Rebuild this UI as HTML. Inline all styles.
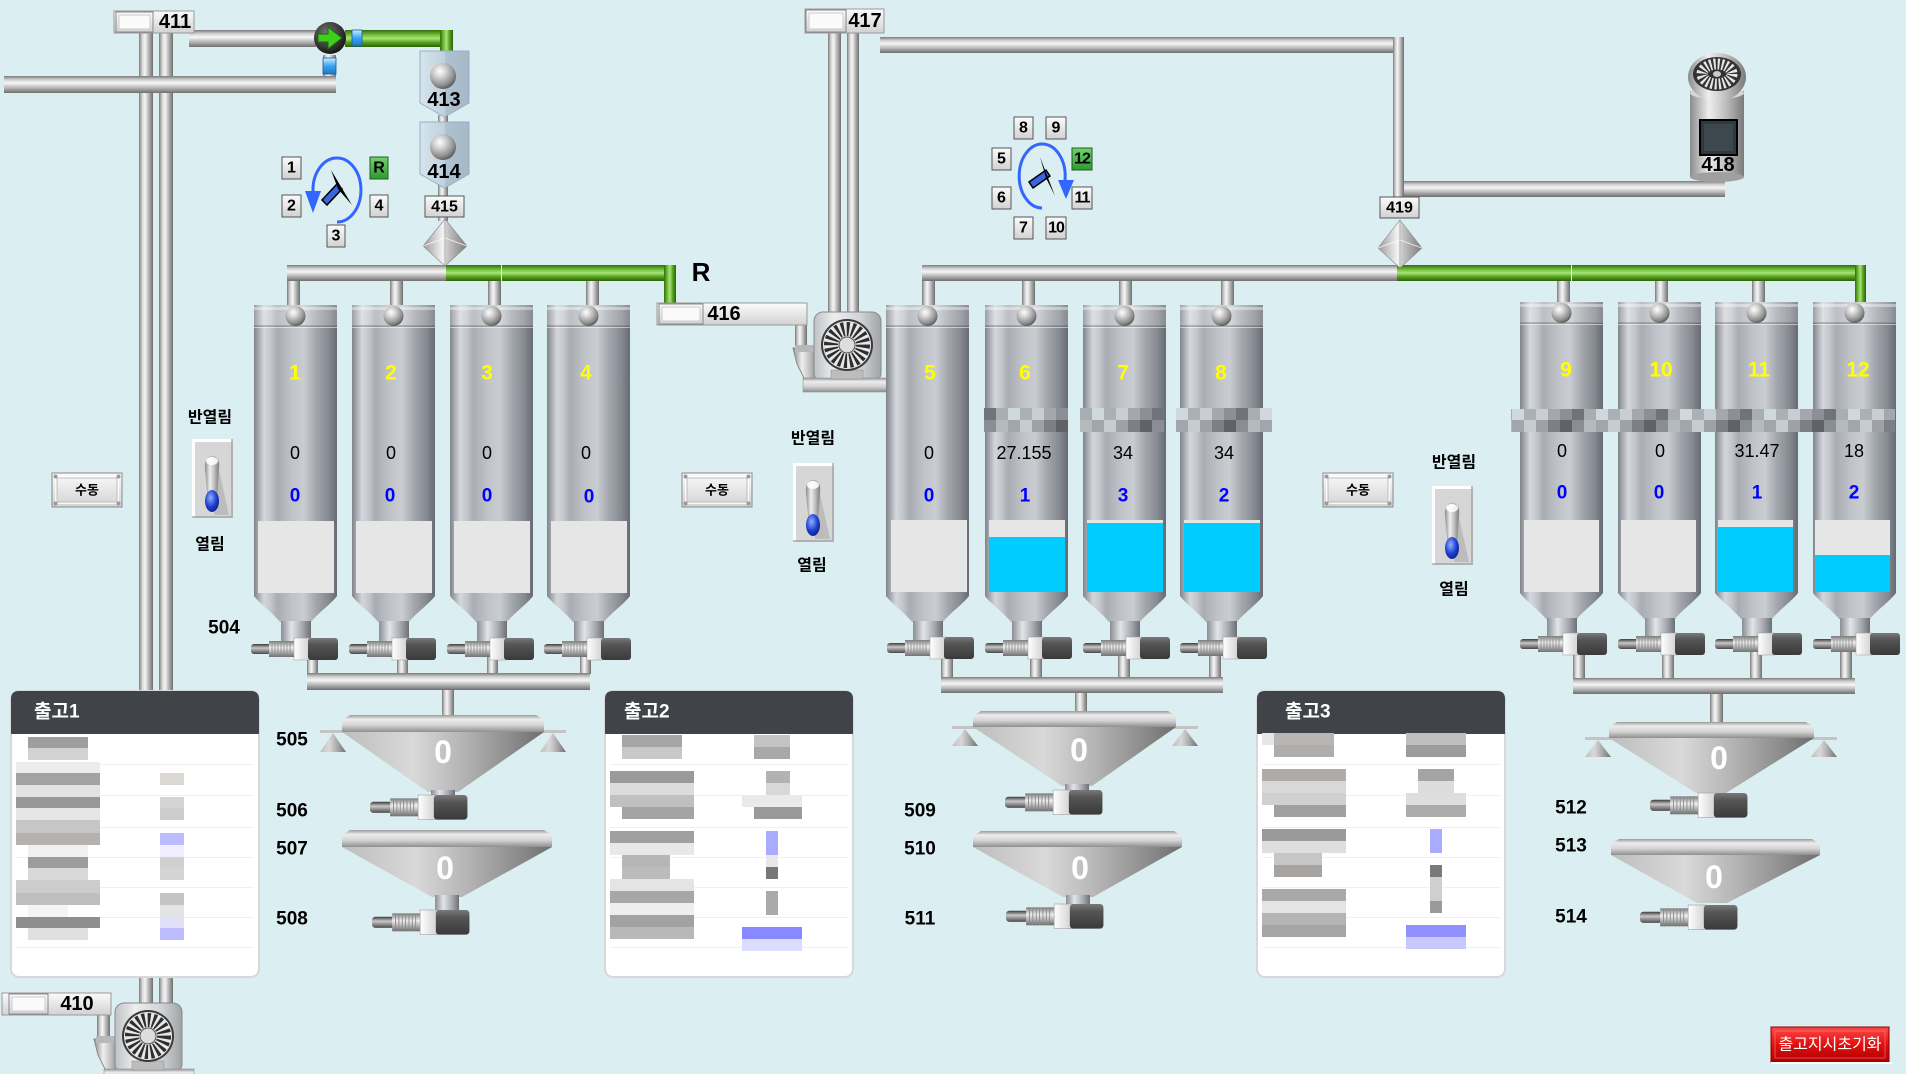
<!DOCTYPE html>
<html><head><meta charset="utf-8">
<style>
html,body{margin:0;padding:0;background:#dbeef2;width:1906px;height:1074px;overflow:hidden}
svg{display:block}
text{font-family:"Liberation Sans","Noto Sans CJK KR",sans-serif;text-anchor:middle;dominant-baseline:central}
.n{font-size:16px;font-weight:bold;fill:#000}
.lb{font-size:19px;font-weight:bold;fill:#000}
.y{font-size:21px;font-weight:bold;fill:#ffff00}
.v{font-size:18px;fill:#000}
.b{font-size:19px;font-weight:bold;fill:#0000ff}
.z{font-size:32px;font-weight:bold;fill:#fff}
.k{font-size:16px;font-weight:bold;fill:#000}
.t{font-size:19px;font-weight:bold;fill:#fff;text-anchor:start}
.nb{fill:url(#bx);stroke:#555;stroke-width:1}
.ng{fill:url(#gb);stroke:#1f5f1f;stroke-width:1}
</style></head><body>
<svg width="1906" height="1074" viewBox="0 0 1906 1074" xmlns="http://www.w3.org/2000/svg">
<defs>
<linearGradient id="ph" x1="0" y1="0" x2="0" y2="1"><stop offset="0" stop-color="#7a7a7a"/><stop offset=".22" stop-color="#d2d2d2"/><stop offset=".42" stop-color="#f6f6f6"/><stop offset=".68" stop-color="#bababa"/><stop offset="1" stop-color="#6e6e6e"/></linearGradient>
<linearGradient id="pv" x1="0" y1="0" x2="1" y2="0"><stop offset="0" stop-color="#7a7a7a"/><stop offset=".22" stop-color="#d2d2d2"/><stop offset=".42" stop-color="#f6f6f6"/><stop offset=".68" stop-color="#bababa"/><stop offset="1" stop-color="#6e6e6e"/></linearGradient>
<linearGradient id="gh" x1="0" y1="0" x2="0" y2="1"><stop offset="0" stop-color="#2e6e0c"/><stop offset=".3" stop-color="#78c23c"/><stop offset=".5" stop-color="#a8e37a"/><stop offset=".72" stop-color="#58a422"/><stop offset="1" stop-color="#2a620a"/></linearGradient>
<linearGradient id="gv" x1="0" y1="0" x2="1" y2="0"><stop offset="0" stop-color="#2e6e0c"/><stop offset=".3" stop-color="#78c23c"/><stop offset=".5" stop-color="#a8e37a"/><stop offset=".72" stop-color="#58a422"/><stop offset="1" stop-color="#2a620a"/></linearGradient>
<linearGradient id="sb" x1="0" y1="0" x2="1" y2="0"><stop offset="0" stop-color="#7f838a"/><stop offset=".05" stop-color="#a3a7ad"/><stop offset=".12" stop-color="#d3d7dc"/><stop offset=".2" stop-color="#c4c8cd"/><stop offset=".28" stop-color="#a9adb3"/><stop offset=".45" stop-color="#bfc3c8"/><stop offset=".6" stop-color="#c9cdd2"/><stop offset=".75" stop-color="#a3a7ad"/><stop offset=".9" stop-color="#858990"/><stop offset="1" stop-color="#666a72"/></linearGradient>
<linearGradient id="sn" x1="0" y1="0" x2="1" y2="0"><stop offset="0" stop-color="#8a8e94"/><stop offset=".35" stop-color="#e2e5e8"/><stop offset=".7" stop-color="#a8acb2"/><stop offset="1" stop-color="#6c7076"/></linearGradient>
<radialGradient id="ball" cx=".38" cy=".32" r=".7"><stop offset="0" stop-color="#ffffff"/><stop offset=".35" stop-color="#d0d0d0"/><stop offset=".8" stop-color="#8a8a8a"/><stop offset="1" stop-color="#5a5a5a"/></radialGradient>
<linearGradient id="vr" x1="0" y1="0" x2="0" y2="1"><stop offset="0" stop-color="#3a3a3a"/><stop offset=".4" stop-color="#c8c8c8"/><stop offset="1" stop-color="#4a4a4a"/></linearGradient>
<linearGradient id="vk" x1="0" y1="0" x2="0" y2="1"><stop offset="0" stop-color="#7a7a7a"/><stop offset=".4" stop-color="#f0f0f0"/><stop offset=".7" stop-color="#b0b0b0"/><stop offset="1" stop-color="#6a6a6a"/></linearGradient>
<linearGradient id="vw" x1="0" y1="0" x2="1" y2="0"><stop offset="0" stop-color="#ffffff"/><stop offset="1" stop-color="#d0d0d0"/></linearGradient>
<linearGradient id="vd" x1="0" y1="0" x2="0" y2="1"><stop offset="0" stop-color="#7a7a7a"/><stop offset=".3" stop-color="#555"/><stop offset="1" stop-color="#3a3a3a"/></linearGradient>
<linearGradient id="hr" x1="0" y1="0" x2="0" y2="1"><stop offset="0" stop-color="#9a9a9a"/><stop offset=".25" stop-color="#ececec"/><stop offset=".6" stop-color="#d4d4d4"/><stop offset="1" stop-color="#8e8e8e"/></linearGradient>
<linearGradient id="hc" x1="0" y1="0" x2="1" y2="0"><stop offset="0" stop-color="#bdbdbd"/><stop offset=".35" stop-color="#d9d9d9"/><stop offset=".6" stop-color="#b4b4b4"/><stop offset=".85" stop-color="#8a8a8a"/><stop offset="1" stop-color="#6e6e6e"/></linearGradient>
<linearGradient id="mt" x1="0" y1="0" x2="1" y2="0"><stop offset="0" stop-color="#8c8c8c"/><stop offset=".35" stop-color="#eeeeee"/><stop offset=".65" stop-color="#c0c0c0"/><stop offset="1" stop-color="#7a7a7a"/></linearGradient>
<linearGradient id="fh" x1="0" y1="0" x2="1" y2="0"><stop offset="0" stop-color="#bfc2c5"/><stop offset=".3" stop-color="#eceeef"/><stop offset=".7" stop-color="#d0d2d4"/><stop offset="1" stop-color="#a0a3a6"/></linearGradient>
<linearGradient id="bx" x1="0" y1="0" x2="0" y2="1"><stop offset="0" stop-color="#fbfbfb"/><stop offset="1" stop-color="#d2d2d2"/></linearGradient>
<linearGradient id="gb" x1="0" y1="0" x2="0" y2="1"><stop offset="0" stop-color="#6fd36f"/><stop offset="1" stop-color="#2f9a2f"/></linearGradient>
<radialGradient id="blue" cx=".4" cy=".35" r=".7"><stop offset="0" stop-color="#8fb0ff"/><stop offset=".6" stop-color="#1d3fd0"/><stop offset="1" stop-color="#0a1f80"/></radialGradient>
<linearGradient id="bsq" x1="0" y1="0" x2="0" y2="1"><stop offset="0" stop-color="#cdeeff"/><stop offset=".5" stop-color="#39a3f0"/><stop offset="1" stop-color="#1e78c8"/></linearGradient>
<linearGradient id="red" x1="0" y1="0" x2="0" y2="1"><stop offset="0" stop-color="#ff4a4a"/><stop offset=".5" stop-color="#e01010"/><stop offset="1" stop-color="#b00000"/></linearGradient>
<linearGradient id="sh" x1="0" y1="0" x2="1" y2="0"><stop offset="0" stop-color="#d6e4ee"/><stop offset=".5" stop-color="#c0d2de"/><stop offset=".52" stop-color="#aec2d0"/><stop offset="1" stop-color="#a4b8c7"/></linearGradient>
<radialGradient id="dk" cx=".4" cy=".35" r=".7"><stop offset="0" stop-color="#777"/><stop offset="1" stop-color="#111"/></radialGradient>
<linearGradient id="dia" x1="0" y1="0" x2="1" y2="0"><stop offset="0" stop-color="#9a9a9a"/><stop offset=".45" stop-color="#f4f4f4"/><stop offset=".55" stop-color="#c8c8c8"/><stop offset="1" stop-color="#7a7a7a"/></linearGradient>
<pattern id="mos" patternUnits="userSpaceOnUse" x="0" y="408" width="84" height="24">
<rect x="0" y="0" width="12" height="12" fill="#cfd8dc"/><rect x="12" y="0" width="12" height="12" fill="#aab0b6"/><rect x="24" y="0" width="12" height="12" fill="#c8ced2"/><rect x="36" y="0" width="12" height="12" fill="#a4a8ae"/><rect x="48" y="0" width="12" height="12" fill="#8c9096"/><rect x="60" y="0" width="12" height="12" fill="#6f747a"/><rect x="72" y="0" width="12" height="12" fill="#a9aeb3"/>
<rect x="0" y="12" width="12" height="12" fill="#a0a6ac"/><rect x="12" y="12" width="12" height="12" fill="#c6ccd0"/><rect x="24" y="12" width="12" height="12" fill="#9ea2a6"/><rect x="36" y="12" width="12" height="12" fill="#7c8086"/><rect x="48" y="12" width="12" height="12" fill="#5f6368"/><rect x="60" y="12" width="12" height="12" fill="#8a8e94"/><rect x="72" y="12" width="12" height="12" fill="#b4babe"/>
</pattern>
<g id="silo">
<rect x="0" y="0" width="83" height="290" fill="url(#sb)"/>
<rect x="0" y="0" width="83" height="21" fill="#fff" opacity=".22"/>
<rect x="0" y="2" width="83" height="3" fill="#fff" opacity=".4"/>
<rect x="0" y="20" width="83" height="2" fill="#666" opacity=".35"/>
<rect x="0" y="22" width="83" height="1" fill="#fff" opacity=".5"/>
<path d="M0,288 H83 V291 C78,298 62,310 57,317 H26 C21,310 5,298 0,291 Z" fill="url(#sb)"/>
<rect x="27" y="316" width="30" height="20" fill="url(#sn)"/>
<circle cx="41.5" cy="11" r="10" fill="url(#ball)"/>
</g>
<g id="vlv">
<rect x="0" y="6" width="20" height="10" rx="3" fill="url(#vr)"/>
<rect x="18" y="3" width="25" height="16" fill="url(#vk)"/>
<path d="M21,3v16M24,3v16M27,3v16M30,3v16M33,3v16M36,3v16M39,3v16" stroke="#8a8a8a" stroke-width=".8"/>
<rect x="43" y="0" width="16" height="22" fill="url(#vw)" stroke="#999" stroke-width=".5"/>
<rect x="57" y="0" width="30" height="22" rx="3" fill="url(#vd)"/>
</g>
<g id="tog">
<rect x="0" y="0" width="41" height="79" fill="#d6d6d6"/>
<path d="M0,0 H41 V3 H3 V79 H0 Z" fill="#fff"/>
<path d="M41,0 V79 H0 V77 H39 V0 Z" fill="#a0a0a0" opacity=".7"/>
<path d="M25,22 L37,76 H22 Z" fill="#bcbcbc"/>
<path d="M13,28 Q13,18 20,17 Q28,18 27,28 L25,58 H16 Z" fill="url(#mt)" stroke="#999" stroke-width=".5"/>
<ellipse cx="20" cy="22" rx="6" ry="4" fill="#fff" opacity=".85"/>
<ellipse cx="20" cy="62" rx="7" ry="11" fill="url(#blue)"/>
</g>
<g id="btn">
<rect x="0" y="0" width="70" height="34" fill="url(#bx)" stroke="#888"/>
<rect x="4" y="4" width="62" height="26" fill="none" stroke="#fff" stroke-width="1.5"/>
<rect x="5" y="5" width="60" height="24" fill="none" stroke="#b0b0b0" stroke-width=".8"/>
<circle cx="3.5" cy="3.5" r="2" fill="#999"/><circle cx="66.5" cy="3.5" r="2" fill="#999"/><circle cx="3.5" cy="30.5" r="2" fill="#999"/><circle cx="66.5" cy="30.5" r="2" fill="#999"/>
</g>
<g id="fan">
<path d="M0,36 H26 V72 H14 L4,52 Z" fill="url(#mt)" stroke="#8a8a8a"/>
<rect x="2" y="33" width="25" height="7" fill="#b8b8b8"/>
<rect x="21" y="0" width="67" height="70" rx="9" fill="url(#fh)" stroke="#8a8a8a"/>
<rect x="10" y="66" width="90" height="14" fill="url(#hr)" stroke="#888" stroke-width=".5"/>
<rect x="38" y="58" width="32" height="9" fill="#bdbdbd" stroke="#888" stroke-width=".5"/>
<circle cx="54" cy="33" r="26" fill="#3a3a3a"/>
<circle cx="54" cy="33" r="24" fill="#e8e8e8"/>
<circle cx="54" cy="33" r="16" fill="none" stroke="#2e2e2e" stroke-width="14" stroke-dasharray="2.6 2.4"/>
<circle cx="54" cy="33" r="8" fill="#ddd" stroke="#555"/>
</g>
</defs>

<rect x="0" y="0" width="1906" height="1074" fill="#dbeef2"/>

<!-- ===== Pipes left ===== -->
<rect x="139" y="33" width="14" height="975" fill="url(#pv)"/>
<rect x="159" y="33" width="14" height="975" fill="url(#pv)"/>
<rect x="189" y="30" width="127" height="17" fill="url(#ph)"/>
<rect x="323" y="55" width="13" height="38" fill="url(#pv)"/>
<rect x="4" y="76" width="332" height="17" fill="url(#ph)"/>
<rect x="345" y="30" width="108" height="17" fill="url(#gh)"/>
<rect x="440" y="30" width="13" height="22" fill="url(#gv)"/>
<rect x="438" y="115" width="10" height="10" fill="url(#pv)"/>
<rect x="438" y="185" width="10" height="12" fill="url(#pv)"/>
<rect x="438" y="215" width="10" height="6" fill="url(#pv)"/>
<rect x="287" y="265" width="159" height="16" fill="url(#ph)"/>
<rect x="446" y="265" width="230" height="16" fill="url(#gh)"/>
<rect x="501" y="265" width="1" height="16" fill="#e6f5d8"/>
<rect x="664" y="265" width="12" height="38" fill="url(#gv)"/>
<rect x="287" y="281" width="13" height="26" fill="url(#pv)"/>
<rect x="390" y="281" width="13" height="26" fill="url(#pv)"/>
<rect x="488" y="281" width="13" height="26" fill="url(#pv)"/>
<rect x="586" y="281" width="13" height="26" fill="url(#pv)"/>
<rect x="307" y="656" width="11" height="18" fill="url(#pv)"/>
<rect x="397" y="656" width="11" height="18" fill="url(#pv)"/>
<rect x="487" y="656" width="11" height="18" fill="url(#pv)"/>
<rect x="580" y="656" width="11" height="18" fill="url(#pv)"/>
<rect x="307" y="673" width="283" height="17" fill="url(#ph)"/>
<rect x="442" y="690" width="12" height="26" fill="url(#pv)"/>

<!-- ===== Pipes middle/right ===== -->
<rect x="828" y="33" width="13" height="280" fill="url(#pv)"/>
<rect x="847" y="33" width="12" height="280" fill="url(#pv)"/>
<rect x="880" y="37" width="524" height="16" fill="url(#ph)"/>
<rect x="1393" y="37" width="11" height="161" fill="url(#pv)"/>
<rect x="1404" y="181" width="321" height="16" fill="url(#ph)"/>
<rect x="795" y="325" width="12" height="24" fill="url(#pv)"/>
<rect x="922" y="265" width="478" height="16" fill="url(#ph)"/>
<rect x="1397" y="265" width="469" height="16" fill="url(#gh)"/>
<rect x="1571" y="265" width="1" height="16" fill="#e6f5d8"/>
<rect x="1855" y="265" width="11" height="38" fill="url(#gv)"/>
<rect x="922" y="281" width="13" height="26" fill="url(#pv)"/>
<rect x="1022" y="281" width="13" height="26" fill="url(#pv)"/>
<rect x="1119" y="281" width="13" height="26" fill="url(#pv)"/>
<rect x="1221" y="281" width="13" height="26" fill="url(#pv)"/>
<rect x="1557" y="281" width="13" height="24" fill="url(#pv)"/>
<rect x="1655" y="281" width="13" height="24" fill="url(#pv)"/>
<rect x="1752" y="281" width="13" height="24" fill="url(#pv)"/>
<rect x="941" y="656" width="12" height="22" fill="url(#pv)"/>
<rect x="1030" y="656" width="12" height="22" fill="url(#pv)"/>
<rect x="1118" y="656" width="12" height="22" fill="url(#pv)"/>
<rect x="1209" y="656" width="12" height="22" fill="url(#pv)"/>
<rect x="941" y="677" width="282" height="16" fill="url(#ph)"/>
<rect x="1075" y="693" width="12" height="20" fill="url(#pv)"/>
<rect x="1573" y="652" width="12" height="27" fill="url(#pv)"/>
<rect x="1662" y="652" width="12" height="27" fill="url(#pv)"/>
<rect x="1750" y="652" width="12" height="27" fill="url(#pv)"/>
<rect x="1840" y="652" width="12" height="27" fill="url(#pv)"/>
<rect x="1573" y="678" width="282" height="16" fill="url(#ph)"/>
<rect x="1710" y="694" width="13" height="30" fill="url(#pv)"/>
<rect x="97" y="1015" width="13" height="30" fill="url(#pv)"/>

<!-- ===== Top left devices ===== -->
<rect x="114" y="11" width="80" height="22" fill="url(#bx)" stroke="#999"/>
<rect x="116" y="12" width="37" height="20" fill="url(#bx)" stroke="#888"/>
<rect x="119" y="15" width="31" height="14" fill="#fafafa" stroke="#ccc"/>
<text class="lb" x="175" y="22" style="font-size:20px">411</text>
<circle cx="330" cy="38" r="16" fill="url(#dk)"/>
<polygon points="318,34 328,34 328,27 342,38 328,49 328,42 318,42" fill="#3ecf1e" stroke="#1a6a0a" stroke-width="1"/>
<rect x="352" y="30" width="10" height="16" fill="url(#bsq)" stroke="#1a5a9a" stroke-width=".8"/>
<rect x="323" y="58" width="13" height="16" fill="url(#bsq)" stroke="#1a5a9a" stroke-width=".8"/>
<path d="M420,51 H469 V103 L444.5,117 L420,103 Z" fill="url(#sh)" stroke="#9ab0c0"/>
<circle cx="443" cy="76" r="13" fill="url(#ball)"/>
<text class="lb" x="444" y="100" style="font-size:20px">413</text>
<path d="M420,122 H469 V174 L444.5,188 L420,174 Z" fill="url(#sh)" stroke="#9ab0c0"/>
<circle cx="443" cy="147" r="13" fill="url(#ball)"/>
<text class="lb" x="444" y="172" style="font-size:20px">414</text>
<rect class="nb" x="425" y="196" width="39" height="21"/>
<text class="n" x="444.5" y="207">415</text>
<polygon points="445,219 467,246 445,266 423,246" fill="url(#dia)" stroke="#888" stroke-width=".6"/>
<polyline points="423,246 445,238 467,246" fill="none" stroke="#fff" stroke-width="1" opacity=".7"/>
<line x1="445" y1="219" x2="445" y2="266" stroke="#777" stroke-width=".8" opacity=".5"/>

<!-- selector 1 -->
<path d="M337,222 A24,32 0 1 0 313,192" fill="none" stroke="#3366ff" stroke-width="3"/>
<polygon points="305,191 321,191 313,213" fill="#3366ff"/>
<polygon points="322,200 337,184 342,189 327,205" fill="#3a66e0" stroke="#000" stroke-width="1.5"/>
<polygon points="331,170 352,205 338,189" fill="#000"/>
<rect class="nb" x="282" y="157" width="19" height="22"/><text class="n" x="291.5" y="168">1</text>
<rect class="ng" x="370" y="157" width="18" height="22"/><text class="n" x="379" y="168">R</text>
<rect class="nb" x="282" y="195" width="19" height="22"/><text class="n" x="291.5" y="206">2</text>
<rect class="nb" x="370" y="195" width="18" height="22"/><text class="n" x="379" y="206">4</text>
<rect class="nb" x="327" y="225" width="18" height="22"/><text class="n" x="336" y="236">3</text>

<!-- selector 2 -->
<path d="M1042,208 A23,32 0 1 1 1065,180" fill="none" stroke="#3366ff" stroke-width="3"/>
<polygon points="1058,180 1074,180 1066,199" fill="#3366ff"/>
<polygon points="1029,182 1046,170 1050,176 1033,188" fill="#3a66e0" stroke="#000" stroke-width="1.5"/>
<polygon points="1040,157 1055,196 1046,178" fill="#000"/>
<rect class="nb" x="1014" y="117" width="19" height="22"/><text class="n" x="1023.5" y="128">8</text>
<rect class="nb" x="1046" y="117" width="20" height="22"/><text class="n" x="1056" y="128">9</text>
<rect class="nb" x="992" y="148" width="19" height="22"/><text class="n" x="1001.5" y="159">5</text>
<rect class="ng" x="1072" y="148" width="20" height="22"/><text class="n" x="1082" y="159" style="letter-spacing:-1px">12</text>
<rect class="nb" x="992" y="187" width="19" height="22"/><text class="n" x="1001.5" y="198">6</text>
<rect class="nb" x="1072" y="187" width="20" height="22"/><text class="n" x="1082" y="198" style="letter-spacing:-1px">11</text>
<rect class="nb" x="1014" y="217" width="19" height="22"/><text class="n" x="1023.5" y="228">7</text>
<rect class="nb" x="1046" y="217" width="20" height="22"/><text class="n" x="1056" y="228" style="letter-spacing:-1px">10</text>

<!-- 417 / 416 / R -->
<rect x="805" y="9" width="79" height="24" fill="url(#bx)" stroke="#999"/>
<rect x="806" y="10" width="40" height="22" fill="url(#bx)" stroke="#888"/>
<rect x="809" y="13" width="34" height="16" fill="#fafafa" stroke="#ccc"/>
<text class="lb" x="865" y="21" style="font-size:20px">417</text>
<rect x="657" y="303" width="150" height="22" fill="url(#bx)" stroke="#999"/>
<rect x="659" y="304" width="44" height="20" fill="url(#bx)" stroke="#888"/>
<rect x="662" y="307" width="38" height="14" fill="#fafafa" stroke="#ccc"/>
<text class="lb" x="724" y="314" style="font-size:20px">416</text>
<text class="lb" x="701" y="272" style="font-size:26px">R</text>

<!-- fans -->
<use href="#fan" x="793" y="312"/>
<use href="#fan" x="94" y="1003"/>

<!-- 419 / 418 -->
<rect class="nb" x="1380" y="197" width="39" height="21"/>
<text class="n" x="1399.5" y="208">419</text>
<polygon points="1400,220 1422,248 1400,268 1378,248" fill="url(#dia)" stroke="#888" stroke-width=".6"/>
<polyline points="1378,248 1400,240 1422,248" fill="none" stroke="#fff" stroke-width="1" opacity=".7"/>
<line x1="1400" y1="220" x2="1400" y2="268" stroke="#777" stroke-width=".8" opacity=".5"/>
<g transform="translate(1688,53)">
<rect x="2" y="38" width="54" height="86" fill="url(#mt)"/>
<ellipse cx="29" cy="124" rx="27" ry="5" fill="#a0a0a0"/>
<ellipse cx="29" cy="40" rx="27" ry="6" fill="#d8d8d8"/>
<ellipse cx="29" cy="24" rx="29" ry="24" fill="url(#mt)"/>
<ellipse cx="29" cy="21" rx="24" ry="17" fill="#333"/>
<ellipse cx="29" cy="21" rx="15" ry="10" fill="none" stroke="#e6e6e6" stroke-width="11" stroke-dasharray="2 2"/>
<ellipse cx="29" cy="21" rx="4" ry="3" fill="#ccc"/>
<rect x="11" y="66" width="39" height="37" fill="#000"/>
<rect x="13" y="68" width="35" height="33" fill="#2f3a40"/>
<rect x="16" y="71" width="29" height="27" fill="#3c474e"/>
<text class="lb" x="30" y="112" style="font-size:20px">418</text>
</g>

<!-- ===== Silos ===== -->
<use href="#silo" x="254" y="305"/>
<use href="#silo" x="352" y="305"/>
<use href="#silo" x="450" y="305"/>
<use href="#silo" x="547" y="305"/>
<use href="#silo" x="886" y="305"/>
<use href="#silo" x="985" y="305"/>
<use href="#silo" x="1083" y="305"/>
<use href="#silo" x="1180" y="305"/>
<use href="#silo" x="1520" y="302"/>
<use href="#silo" x="1618" y="302"/>
<use href="#silo" x="1715" y="302"/>
<use href="#silo" x="1813" y="302"/>

<use href="#vlv" x="251" y="638"/>
<use href="#vlv" x="349" y="638"/>
<use href="#vlv" x="447" y="638"/>
<use href="#vlv" x="544" y="638"/>
<use href="#vlv" x="887" y="637"/>
<use href="#vlv" x="985" y="637"/>
<use href="#vlv" x="1083" y="637"/>
<use href="#vlv" x="1180" y="637"/>
<use href="#vlv" x="1520" y="633"/>
<use href="#vlv" x="1618" y="633"/>
<use href="#vlv" x="1715" y="633"/>
<use href="#vlv" x="1813" y="633"/>

<!-- blurred bands -->
<rect x="984" y="408" width="84" height="24" fill="url(#mos)"/>
<rect x="1080" y="408" width="84" height="24" fill="url(#mos)"/>
<rect x="1176" y="408" width="96" height="24" fill="url(#mos)"/>
<rect x="1511" y="409" width="384" height="23" fill="url(#mos)"/>

<!-- level boxes -->
<rect x="258" y="521" width="76" height="72" fill="#e6e6e6"/>
<rect x="356" y="521" width="76" height="72" fill="#e6e6e6"/>
<rect x="454" y="521" width="76" height="72" fill="#e6e6e6"/>
<rect x="551" y="521" width="76" height="72" fill="#e6e6e6"/>
<rect x="891" y="520" width="76" height="72" fill="#e6e6e6"/>
<rect x="989" y="520" width="76" height="17" fill="#e6e6e6"/><rect x="989" y="537" width="76" height="55" fill="#00ccff"/>
<rect x="1087" y="520" width="76" height="3" fill="#e6e6e6"/><rect x="1087" y="523" width="76" height="69" fill="#00ccff"/>
<rect x="1184" y="520" width="76" height="3" fill="#e6e6e6"/><rect x="1184" y="523" width="76" height="69" fill="#00ccff"/>
<rect x="1524" y="520" width="75" height="72" fill="#e6e6e6"/>
<rect x="1621" y="520" width="75" height="72" fill="#e6e6e6"/>
<rect x="1718" y="520" width="75" height="7" fill="#e6e6e6"/><rect x="1718" y="527" width="75" height="65" fill="#00ccff"/>
<rect x="1815" y="520" width="75" height="35" fill="#e6e6e6"/><rect x="1815" y="555" width="75" height="37" fill="#00ccff"/>

<!-- silo texts -->
<text class="y" x="295" y="373">1</text><text class="y" x="391" y="373">2</text><text class="y" x="487" y="373">3</text><text class="y" x="586" y="373">4</text>
<text class="v" x="295" y="453">0</text><text class="v" x="391" y="453">0</text><text class="v" x="487" y="453">0</text><text class="v" x="586" y="453">0</text>
<text class="b" x="295" y="496">0</text><text class="b" x="390" y="496">0</text><text class="b" x="487" y="496">0</text><text class="b" x="589" y="497">0</text>
<text class="y" x="930" y="373">5</text><text class="y" x="1025" y="373">6</text><text class="y" x="1123" y="373">7</text><text class="y" x="1221" y="373">8</text>
<text class="v" x="929" y="453">0</text><text class="v" x="1024" y="453">27.155</text><text class="v" x="1123" y="453">34</text><text class="v" x="1224" y="453">34</text>
<text class="b" x="929" y="496">0</text><text class="b" x="1025" y="496">1</text><text class="b" x="1123" y="496">3</text><text class="b" x="1224" y="496">2</text>
<text class="y" x="1566" y="370">9</text><text class="y" x="1661" y="370">10</text><text class="y" x="1759" y="370">11</text><text class="y" x="1858" y="370">12</text>
<text class="v" x="1562" y="451">0</text><text class="v" x="1660" y="451">0</text><text class="v" x="1757" y="451">31.47</text><text class="v" x="1854" y="451">18</text>
<text class="b" x="1562" y="493">0</text><text class="b" x="1659" y="493">0</text><text class="b" x="1757" y="493">1</text><text class="b" x="1854" y="493">2</text>

<!-- controls -->
<use href="#btn" x="52" y="473"/><text class="k" x="87" y="490" style="font-size:13px">수동</text>
<use href="#btn" x="682" y="473"/><text class="k" x="717" y="490" style="font-size:13px">수동</text>
<use href="#btn" x="1323" y="473"/><text class="k" x="1358" y="490" style="font-size:13px">수동</text>
<text class="k" x="210" y="418">반열림</text><use href="#tog" x="192" y="439"/><text class="k" x="210" y="545">열림</text>
<text class="k" x="813" y="439">반열림</text><use href="#tog" x="793" y="463"/><text class="k" x="812" y="566">열림</text>
<text class="k" x="1454" y="463">반열림</text><use href="#tog" x="1432" y="486"/><text class="k" x="1454" y="590">열림</text>
<text class="lb" x="224" y="628">504</text>

<!-- ===== Hoppers ===== -->
<rect x="320" y="730" width="246" height="3" fill="#c4c4c4"/>
<path d="M333,733 L320,752 H346 Z" fill="url(#hc)"/><path d="M553,733 L540,752 H566 Z" fill="url(#hc)"/>
<path d="M342,720 L350,715 H536 L544,720 V732 H342 Z" fill="url(#hr)"/>
<path d="M342,732 H544 L458,792 H428 Z" fill="url(#hc)"/>
<rect x="431" y="790" width="24" height="7" fill="url(#sn)"/>
<text class="z" x="443" y="752">0</text>
<use href="#vlv" transform="translate(370,795) scale(1.12)"/>
<path d="M342,835 L350,830 H544 L552,835 V847 H342 Z" fill="url(#hr)"/>
<path d="M342,847 H552 L462,897 H432 Z" fill="url(#hc)"/>
<rect x="435" y="895" width="24" height="16" fill="url(#sn)"/>
<text class="z" x="445" y="868">0</text>
<use href="#vlv" transform="translate(372,910) scale(1.12)"/>

<rect x="952" y="726" width="246" height="3" fill="#c4c4c4"/>
<path d="M965,729 L952,746 H978 Z" fill="url(#hc)"/><path d="M1185,729 L1172,746 H1198 Z" fill="url(#hc)"/>
<path d="M973,716 L981,711 H1168 L1176,716 V727 H973 Z" fill="url(#hr)"/>
<path d="M973,727 H1176 L1092,786 H1062 Z" fill="url(#hc)"/>
<rect x="1065" y="784" width="24" height="7" fill="url(#sn)"/>
<text class="z" x="1079" y="750">0</text>
<use href="#vlv" transform="translate(1005,790) scale(1.12)"/>
<path d="M973,836 L981,831 H1174 L1182,836 V847 H973 Z" fill="url(#hr)"/>
<path d="M973,847 H1182 L1093,897 H1063 Z" fill="url(#hc)"/>
<rect x="1066" y="895" width="24" height="10" fill="url(#sn)"/>
<text class="z" x="1080" y="868">0</text>
<use href="#vlv" transform="translate(1006,904) scale(1.12)"/>

<rect x="1585" y="737" width="252" height="3" fill="#c4c4c4"/>
<path d="M1598,740 L1585,757 H1611 Z" fill="url(#hc)"/><path d="M1824,740 L1811,757 H1837 Z" fill="url(#hc)"/>
<path d="M1609,727 L1617,722 H1806 L1814,727 V738 H1609 Z" fill="url(#hr)"/>
<path d="M1609,738 H1814 L1726,793 H1696 Z" fill="url(#hc)"/>
<text class="z" x="1719" y="758">0</text>
<use href="#vlv" transform="translate(1650,793) scale(1.12)"/>
<path d="M1611,844 L1619,839 H1812 L1820,844 V855 H1611 Z" fill="url(#hr)"/>
<path d="M1611,855 H1820 L1727,903 H1697 Z" fill="url(#hc)"/>
<text class="z" x="1714" y="877">0</text>
<use href="#vlv" transform="translate(1640,905) scale(1.12)"/>

<text class="lb" x="292" y="740">505</text><text class="lb" x="292" y="811">506</text><text class="lb" x="292" y="849">507</text><text class="lb" x="292" y="919">508</text>
<text class="lb" x="920" y="811">509</text><text class="lb" x="920" y="849">510</text><text class="lb" x="920" y="919">511</text>
<text class="lb" x="1571" y="808">512</text><text class="lb" x="1571" y="846">513</text><text class="lb" x="1571" y="917">514</text>

<!-- ===== Panels ===== -->
<rect x="11" y="691" width="248" height="286" rx="8" fill="#fff" stroke="#d8d8d8" stroke-width="2"/>
<path d="M11,734 V699 Q11,691 19,691 H251 Q259,691 259,699 V734 Z" fill="#404449"/>
<text class="t" x="34" y="712">출고1</text>
<g fill="#f0f0f0"><rect x="16" y="764" width="238" height="1"/><rect x="16" y="795" width="238" height="1"/><rect x="16" y="827" width="238" height="1"/><rect x="16" y="857" width="238" height="1"/><rect x="16" y="887" width="238" height="1"/><rect x="16" y="917" width="238" height="1"/><rect x="16" y="947" width="238" height="1"/></g>
<rect x="28" y="737" width="60" height="11" fill="#a09e9c"/><rect x="28" y="748" width="60" height="12" fill="#d2d2d2"/>
<rect x="16" y="762" width="84" height="11" fill="#ececec"/><rect x="16" y="773" width="84" height="12" fill="#a2a2a2"/>
<rect x="16" y="785" width="84" height="12" fill="#e2e2e2"/><rect x="16" y="797" width="84" height="11" fill="#9a9896"/>
<rect x="16" y="808" width="84" height="12" fill="#e6e6e6"/><rect x="16" y="820" width="84" height="13" fill="#c8c6c4"/>
<rect x="16" y="833" width="84" height="12" fill="#b4b2b0"/><rect x="28" y="845" width="60" height="12" fill="#f0f0f0"/>
<rect x="28" y="857" width="60" height="11" fill="#9e9c9a"/><rect x="28" y="868" width="60" height="12" fill="#d8d8d8"/>
<rect x="16" y="880" width="84" height="13" fill="#cccccc"/><rect x="16" y="893" width="84" height="12" fill="#c0bebe"/>
<rect x="28" y="905" width="40" height="12" fill="#f4f4f4"/><rect x="16" y="917" width="84" height="11" fill="#8e8e8e"/>
<rect x="28" y="928" width="60" height="12" fill="#e0e0e0"/>
<rect x="160" y="773" width="24" height="12" fill="#dcd8d4"/><rect x="160" y="797" width="24" height="11" fill="#d4d4d4"/><rect x="160" y="808" width="24" height="12" fill="#cccccc"/>
<rect x="160" y="833" width="24" height="12" fill="#bbbbff"/><rect x="160" y="845" width="24" height="12" fill="#eeeeff"/>
<rect x="160" y="857" width="24" height="11" fill="#d0d0d0"/><rect x="160" y="868" width="24" height="12" fill="#d4d4d4"/>
<rect x="160" y="893" width="24" height="12" fill="#c4c4c4"/><rect x="160" y="905" width="24" height="12" fill="#e4e4e4"/>
<rect x="160" y="917" width="24" height="11" fill="#e0e0f8"/><rect x="160" y="928" width="24" height="12" fill="#bcbcff"/>

<rect x="605" y="691" width="248" height="286" rx="8" fill="#fff" stroke="#d8d8d8" stroke-width="2"/>
<path d="M605,734 V699 Q605,691 613,691 H845 Q853,691 853,699 V734 Z" fill="#404449"/>
<text class="t" x="624" y="712">출고2</text>
<g fill="#f0f0f0"><rect x="610" y="764" width="238" height="1"/><rect x="610" y="795" width="238" height="1"/><rect x="610" y="827" width="238" height="1"/><rect x="610" y="857" width="238" height="1"/><rect x="610" y="887" width="238" height="1"/><rect x="610" y="917" width="238" height="1"/><rect x="610" y="947" width="238" height="1"/></g>
<rect x="622" y="735" width="60" height="12" fill="#a8a6a4"/><rect x="622" y="747" width="60" height="12" fill="#c8c8c8"/>
<rect x="610" y="771" width="84" height="12" fill="#9c9a98"/><rect x="610" y="783" width="84" height="12" fill="#dcdcdc"/>
<rect x="610" y="795" width="84" height="12" fill="#c0c0c0"/><rect x="622" y="807" width="72" height="12" fill="#a4a4a4"/>
<rect x="610" y="831" width="84" height="12" fill="#a0a0a0"/><rect x="610" y="843" width="84" height="12" fill="#e8e8e8"/>
<rect x="622" y="855" width="48" height="12" fill="#b8b6b4"/><rect x="622" y="867" width="48" height="12" fill="#bcbcbc"/>
<rect x="610" y="879" width="84" height="12" fill="#e4e4e4"/><rect x="610" y="891" width="84" height="12" fill="#a8a6a6"/>
<rect x="610" y="903" width="84" height="12" fill="#eeeeee"/><rect x="610" y="915" width="84" height="12" fill="#a2a2a2"/>
<rect x="610" y="927" width="84" height="12" fill="#b8b8b8"/>
<rect x="754" y="735" width="36" height="12" fill="#c4c4c4"/><rect x="754" y="747" width="36" height="12" fill="#a8a8a8"/>
<rect x="766" y="771" width="24" height="12" fill="#b4b2b0"/><rect x="766" y="783" width="24" height="12" fill="#d8d8d8"/>
<rect x="742" y="795" width="60" height="12" fill="#eaeaea"/><rect x="754" y="807" width="48" height="12" fill="#9a9a9a"/>
<rect x="766" y="831" width="12" height="24" fill="#aaaaff"/>
<rect x="766" y="855" width="12" height="12" fill="#e8e8e8"/><rect x="766" y="867" width="12" height="12" fill="#777777"/>
<rect x="766" y="891" width="12" height="24" fill="#aaaaaa"/>
<rect x="742" y="927" width="60" height="12" fill="#8888ff"/><rect x="742" y="939" width="60" height="12" fill="#dcdcff"/>

<rect x="1257" y="691" width="248" height="286" rx="8" fill="#fff" stroke="#d8d8d8" stroke-width="2"/>
<path d="M1257,734 V699 Q1257,691 1265,691 H1497 Q1505,691 1505,699 V734 Z" fill="#404449"/>
<text class="t" x="1285" y="712">출고3</text>
<g fill="#f0f0f0"><rect x="1262" y="764" width="238" height="1"/><rect x="1262" y="795" width="238" height="1"/><rect x="1262" y="827" width="238" height="1"/><rect x="1262" y="857" width="238" height="1"/><rect x="1262" y="887" width="238" height="1"/><rect x="1262" y="917" width="238" height="1"/><rect x="1262" y="947" width="238" height="1"/></g>
<rect x="1262" y="733" width="12" height="12" fill="#e6e6e6"/><rect x="1274" y="733" width="60" height="12" fill="#b8b6b4"/><rect x="1274" y="745" width="60" height="12" fill="#b0aeac"/>
<rect x="1262" y="769" width="84" height="12" fill="#aeaca8"/><rect x="1262" y="781" width="84" height="12" fill="#dad8d6"/>
<rect x="1262" y="793" width="84" height="12" fill="#d0d0d0"/><rect x="1274" y="805" width="72" height="12" fill="#a0a0a0"/>
<rect x="1262" y="829" width="84" height="12" fill="#9a9a9a"/><rect x="1262" y="841" width="84" height="12" fill="#dedede"/>
<rect x="1274" y="853" width="48" height="12" fill="#c8c6c4"/><rect x="1274" y="865" width="48" height="12" fill="#a6a4a2"/>
<rect x="1262" y="889" width="84" height="12" fill="#aaa8a8"/><rect x="1262" y="901" width="84" height="12" fill="#e4e4e4"/>
<rect x="1262" y="913" width="84" height="12" fill="#b4b4b4"/><rect x="1262" y="925" width="84" height="12" fill="#a6a4a4"/>
<rect x="1406" y="733" width="60" height="12" fill="#c0bebe"/><rect x="1406" y="745" width="60" height="12" fill="#9c9c9c"/>
<rect x="1418" y="769" width="36" height="12" fill="#a4a4a4"/><rect x="1418" y="781" width="36" height="12" fill="#dcdcdc"/>
<rect x="1406" y="793" width="60" height="12" fill="#dedede"/><rect x="1406" y="805" width="60" height="12" fill="#acacac"/>
<rect x="1430" y="829" width="12" height="24" fill="#aaaaff"/>
<rect x="1430" y="865" width="12" height="12" fill="#7a7a7a"/><rect x="1430" y="877" width="12" height="24" fill="#cfcfcf"/><rect x="1430" y="901" width="12" height="12" fill="#9a9a9a"/>
<rect x="1406" y="925" width="60" height="12" fill="#9090ff"/><rect x="1406" y="937" width="60" height="12" fill="#c8c8ff"/>

<!-- 410 -->
<rect x="2" y="993" width="109" height="22" fill="url(#bx)" stroke="#999"/>
<rect x="9" y="994" width="39" height="20" fill="url(#bx)" stroke="#888"/>
<rect x="12" y="997" width="33" height="14" fill="#fafafa" stroke="#ccc"/>
<text class="lb" x="77" y="1004" style="font-size:20px">410</text>

<!-- reset button -->
<rect x="1771" y="1027" width="118" height="35" fill="url(#red)" stroke="#8a0000"/>
<rect x="1775" y="1031" width="110" height="27" fill="none" stroke="#ff8080" stroke-width="1" opacity=".6"/>
<rect x="1771" y="1062" width="121" height="2" fill="#fff"/>
<text x="1830" y="1045" style="font-size:16px;fill:#fff">출고지시초기화</text>
</svg>
</body></html>
